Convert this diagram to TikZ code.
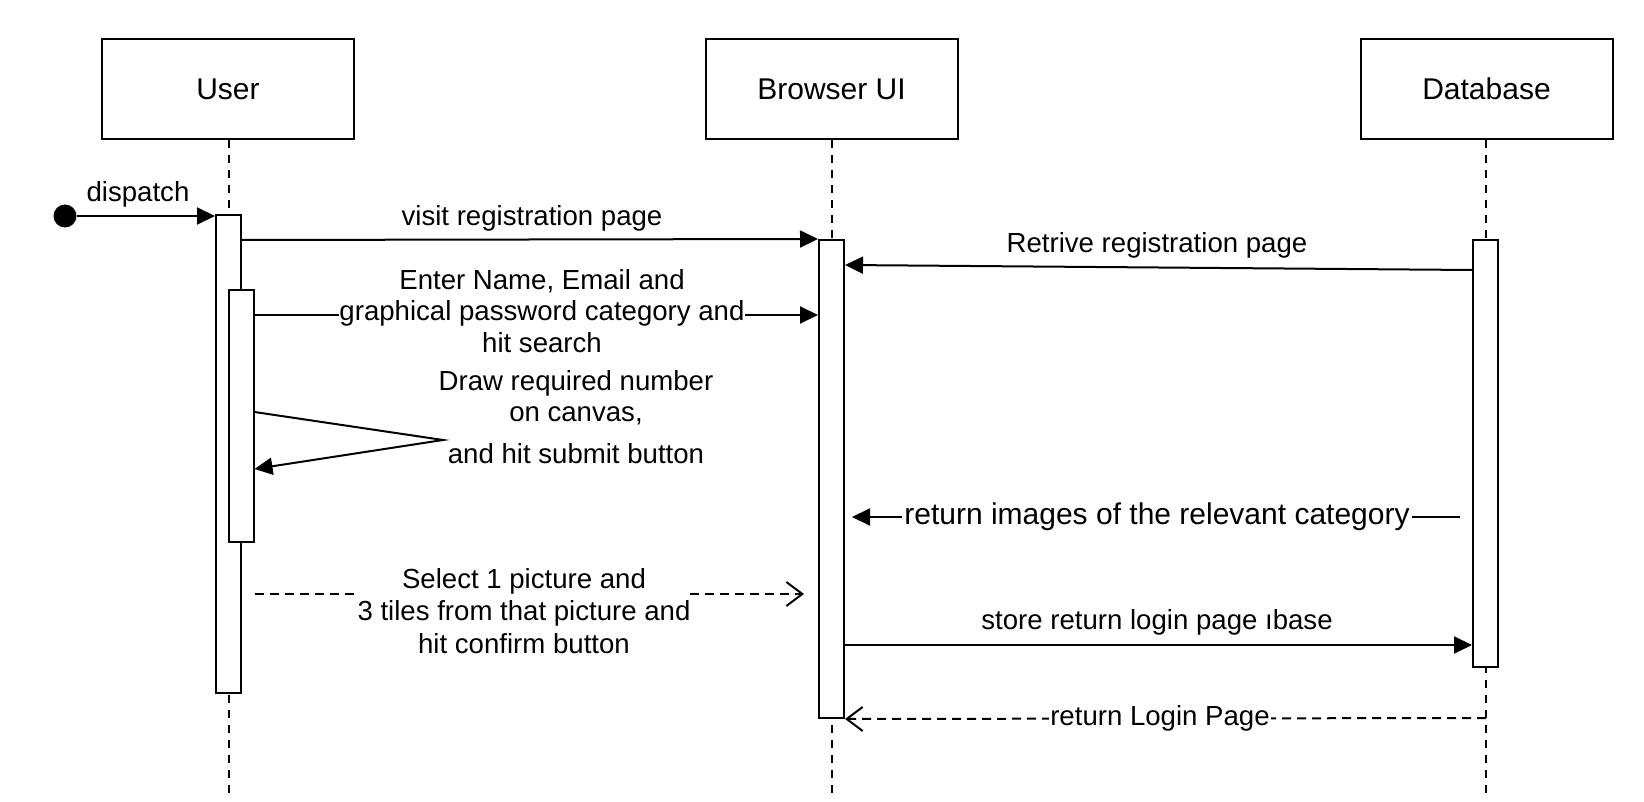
\documentclass[tikz,border=0pt]{standalone}
\usepackage{fontspec}
\setmainfont{Liberation Sans}
\usetikzlibrary{arrows.meta,calc}
\tikzset{
  headbox/.style={draw, line width=2pt, minimum width=252pt, minimum height=100pt, inner sep=0pt, font=\fontsize{30}{34}\selectfont},
  actbox/.style={draw, fill=white, line width=2pt, minimum width=25pt, inner sep=0pt},
  life/.style={line width=2pt, dash pattern=on 8pt off 7pt},
  msg/.style={line width=2pt, -{Triangle[length=18pt,width=17pt]}},
  rmsg/.style={line width=2pt, dash pattern=on 9pt off 6pt, -{Straight Barb[length=16pt,width=24pt,line width=2pt]}},
  lbl/.style={font=\fontsize{27.6}{31.5}\selectfont, align=center, inner sep=1pt},
  wlbl/.style={lbl, fill=white},
}
\begin{document}
\begin{tikzpicture}[x=1pt,y=-1pt]
\useasboundingbox (0,0) rectangle (1644,802);
% heads
\node[headbox] (user) at (228,89) {User};
\node[headbox] (ui) at (831.5,89) {Browser UI};
\node[headbox] (db) at (1486.5,89) {Database};
% lifelines
\coordinate (userend) at (228.5,794);
\coordinate (uiend) at (831.5,794);
\coordinate (dbend) at (1486,794);
\draw[life] (user.south -| userend) -- (userend);
\draw[life] (ui.south -| uiend) -- (uiend);
\draw[life] (db.south -| dbend) -- (dbend);
% activations
\node[actbox, minimum height=478pt] (ua) at (228.5,454) {};
\node[actbox, minimum height=252pt] (ub) at (241,416) {};
\node[actbox, minimum height=478pt] (ba) at (831.5,479) {};
\node[actbox, minimum height=427pt] (da) at (1485.5,453.5) {};
% dispatch
\node[circle, fill=black, minimum size=23pt, inner sep=0pt] (start) at (65,216) {};
\draw[msg] (start) -- (ua.north west |- start);
\node[lbl] (dl) at (138,194) {dispatch};
% visit registration page
\draw[msg] (ua.east |- 0,240) -- (ba.north west);
\node[lbl] (l1) at (532,218) {visit registration page};
% retrive
\draw[msg] (da.west |- 0,270) -- (ba.east |- 0,265);
\node[lbl] (l2) at (1157,245) {Retrive registration page};
% enter name
\draw[msg] (ub.east |- 0,315) -- (ba.west |- 0,315);
\node[wlbl, inner sep=0pt] (l3) at (542,311) {Enter Name, Email and\\graphical password category and\\hit search};
% self message
\coordinate (selfv) at (443,440);
\draw[msg] (ub.east |- 0,412) -- (selfv) -- (ub.east |- 0,469);
\node[lbl] (l4) at (576,417) {Draw required number\\on canvas,\\[10pt]and hit submit button};
% return images
\draw[msg] ($(da.west |- 0,517)+(-12,0)$) -- ($(ba.east |- 0,517)+(7,0)$);
\node[wlbl, font=\fontsize{30}{34}\selectfont, inner sep=2pt] (l5) at (1157,517) {return images of the relevant category};
% select picture
\draw[rmsg] (ub.east |- 0,594) -- ($(ba.west |- 0,594)+(-14,0)$);
\node[wlbl, inner sep=0pt, font=\fontsize{27.6}{32.5}\selectfont] (l6) at (524,611) {Select 1 picture and\\3 tiles from that picture and\\hit confirm button};
% store
\draw[msg] (ba.east |- 0,645) -- (da.west |- 0,645);
\node[lbl] (l7) at (1157,622) {store return login page ıbase};
% return login page
\draw[rmsg] (dbend |- 0,718) -- (ba.south east);
\node[wlbl, inner ysep=0pt, inner xsep=1pt] (l8) at (1160,718) {return Login Page};
\end{tikzpicture}
\end{document}
